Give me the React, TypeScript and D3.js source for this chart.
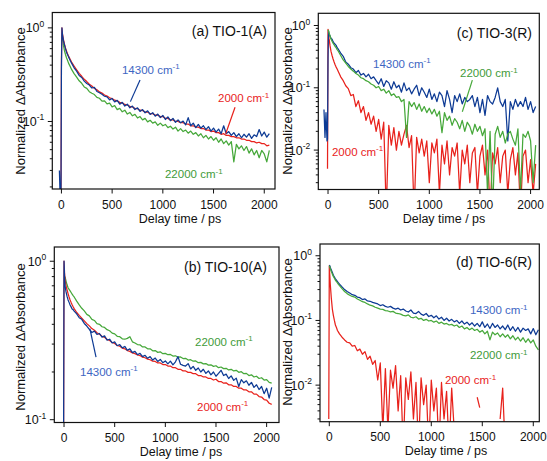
import React from 'react';
import * as d3 from 'd3';

// delay times (ps) shared by every trace
const TIMES = [
  -40, -30, -20, -10, -5, 0, 5, 10, 20, 30,
  40, 50, 60, 70, 80, 90, 100, 125, 150, 175,
  200, 225, 250, 275, 300, 325, 350, 375, 400, 425,
  450, 475, 500, 525, 550, 575, 600, 625, 650, 675,
  700, 725, 750, 775, 800, 825, 850, 875, 900, 925,
  950, 975, 1000, 1025, 1050, 1075, 1100, 1125, 1150, 1175,
  1200, 1225, 1250, 1275, 1300, 1325, 1350, 1375, 1400, 1425,
  1450, 1475, 1500, 1525, 1550, 1575, 1600, 1625, 1650, 1675,
  1700, 1725, 1750, 1775, 1800, 1825, 1850, 1875, 1900, 1925,
  1950, 1975, 2000, 2025, 2050,
];

// (a) TIO-1(A)
const A_2000 = [
  null, null, null, null, 0.01, 0.45, 1.0, 0.87, 0.75, 0.67,
  0.61, 0.565, 0.53, 0.5, 0.475, 0.452, 0.432, 0.39, 0.356, 0.326,
  0.304, 0.282, 0.267, 0.25, 0.239, 0.226, 0.218, 0.207, 0.201, 0.192,
  0.187, 0.179, 0.176, 0.169, 0.166, 0.16, 0.158, 0.152, 0.15, 0.145,
  0.143, 0.138, 0.137, 0.132, 0.131, 0.126, 0.126, 0.121, 0.121, 0.117,
  0.117, 0.113, 0.113, 0.108, 0.108, 0.104, 0.104, 0.1, 0.1, 0.097,
  0.097, 0.094, 0.094, 0.09, 0.09, 0.087, 0.087, 0.084, 0.084, 0.081,
  0.081, 0.078, 0.079, 0.076, 0.076, 0.073, 0.074, 0.071, 0.071, 0.069,
  0.069, 0.067, 0.067, 0.065, 0.065, 0.063, 0.063, 0.061, 0.061, 0.059,
  0.06, 0.058, 0.058, 0.055, 0.056,
];
const A_14300 = [
  null, null, 0.03, 0.012, 0.012, 0.35, 1.0, 0.85, 0.73, 0.66,
  0.6, 0.55, 0.52, 0.49, 0.465, 0.44, 0.42, 0.375, 0.345, 0.31,
  0.295, 0.27, 0.255, 0.245, 0.228, 0.232, 0.209, 0.203, 0.195, 0.186,
  0.183, 0.17, 0.176, 0.162, 0.168, 0.153, 0.16, 0.146, 0.153, 0.14,
  0.146, 0.134, 0.14, 0.128, 0.134, 0.124, 0.13, 0.119, 0.124, 0.114,
  0.12, 0.11, 0.116, 0.105, 0.112, 0.102, 0.108, 0.098, 0.104, 0.097,
  0.101, 0.092, 0.11, 0.09, 0.096, 0.086, 0.093, 0.085, 0.09, 0.082,
  0.088, 0.079, 0.085, 0.077, 0.083, 0.074, 0.09, 0.074, 0.078, 0.071,
  0.076, 0.069, 0.074, 0.067, 0.073, 0.068, 0.074, 0.066, 0.072, 0.069,
  0.082, 0.07, 0.077, 0.068, 0.074,
];
const A_22000 = [
  null, null, null, null, null, null, null, 0.78, 0.65, 0.57,
  0.52, 0.48, 0.45, 0.42, 0.4, 0.38, 0.36, 0.325, 0.298, 0.272,
  0.256, 0.234, 0.226, 0.208, 0.2, 0.194, 0.181, 0.177, 0.165, 0.166,
  0.154, 0.157, 0.143, 0.148, 0.134, 0.138, 0.127, 0.132, 0.12, 0.125,
  0.115, 0.119, 0.109, 0.113, 0.104, 0.108, 0.099, 0.103, 0.096, 0.099,
  0.091, 0.096, 0.09, 0.093, 0.086, 0.089, 0.083, 0.087, 0.079, 0.084,
  0.078, 0.081, 0.075, 0.079, 0.073, 0.076, 0.07, 0.074, 0.067, 0.071,
  0.065, 0.069, 0.063, 0.067, 0.06, 0.065, 0.058, 0.062, 0.056, 0.061,
  0.037, 0.057, 0.051, 0.055, 0.049, 0.054, 0.046, 0.051, 0.044, 0.049,
  0.041, 0.049, 0.045, 0.037, 0.049,
];

// (b) TIO-10(A)
const B_2000 = [
  null, null, null, null, 0.05, 1.0, 0.85, 0.77, 0.7, 0.66,
  0.625, 0.595, 0.57, 0.55, 0.532, 0.516, 0.502, 0.475, 0.455, 0.437,
  0.42, 0.404, 0.391, 0.376, 0.367, 0.354, 0.346, 0.336, 0.331, 0.321,
  0.316, 0.307, 0.303, 0.294, 0.291, 0.283, 0.28, 0.273, 0.27, 0.264,
  0.261, 0.256, 0.254, 0.248, 0.246, 0.241, 0.239, 0.234, 0.233, 0.228,
  0.228, 0.223, 0.223, 0.218, 0.218, 0.213, 0.213, 0.208, 0.208, 0.203,
  0.203, 0.199, 0.199, 0.195, 0.195, 0.19, 0.19, 0.186, 0.186, 0.182,
  0.182, 0.178, 0.18, 0.174, 0.174, 0.17, 0.171, 0.166, 0.166, 0.162,
  0.162, 0.158, 0.158, 0.154, 0.154, 0.15, 0.15, 0.145, 0.145, 0.14,
  0.139, 0.134, 0.133, 0.127, 0.125,
];
const B_14300 = [
  null, null, null, null, 0.05, 1.0, 0.8, 0.7, 0.64, 0.6,
  0.57, 0.55, 0.53, 0.515, 0.5, 0.495, 0.485, 0.465, 0.44, 0.43,
  0.405, 0.39, 0.372, 0.355, 0.362, 0.345, 0.35, 0.332, 0.338, 0.318,
  0.322, 0.305, 0.31, 0.293, 0.298, 0.284, 0.29, 0.274, 0.28, 0.265,
  0.27, 0.257, 0.262, 0.25, 0.255, 0.244, 0.25, 0.238, 0.245, 0.233,
  0.24, 0.229, 0.235, 0.225, 0.234, 0.222, 0.232, 0.25, 0.224, 0.22,
  0.218, 0.226, 0.209, 0.217, 0.205, 0.212, 0.2, 0.208, 0.196, 0.203,
  0.192, 0.2, 0.188, 0.196, 0.205, 0.19, 0.194, 0.182, 0.189, 0.177,
  0.183, 0.162, 0.179, 0.171, 0.176, 0.165, 0.172, 0.16, 0.166, 0.155,
  0.162, 0.146, 0.158, 0.137, 0.16,
];
const B_22000 = [
  null, null, null, null, null, null, null, 0.8, 0.75, 0.71,
  0.68, 0.665, 0.65, 0.635, 0.62, 0.607, 0.595, 0.56, 0.53, 0.505,
  0.486, 0.462, 0.452, 0.43, 0.423, 0.404, 0.4, 0.386, 0.382, 0.37,
  0.364, 0.352, 0.348, 0.336, 0.334, 0.324, 0.322, 0.326, 0.334, 0.31,
  0.305, 0.298, 0.297, 0.288, 0.288, 0.28, 0.28, 0.272, 0.273, 0.266,
  0.268, 0.261, 0.262, 0.257, 0.258, 0.252, 0.253, 0.248, 0.249, 0.243,
  0.244, 0.238, 0.239, 0.234, 0.235, 0.229, 0.23, 0.225, 0.226, 0.221,
  0.222, 0.217, 0.219, 0.213, 0.215, 0.21, 0.211, 0.206, 0.208, 0.203,
  0.205, 0.199, 0.201, 0.195, 0.196, 0.19, 0.192, 0.186, 0.188, 0.182,
  0.184, 0.178, 0.179, 0.172, 0.17,
];

// (c) TIO-3(R)
const C_2000 = [
  null, null, null, null, 0.005, 0.87, 0.75, 0.62, 0.47, 0.38,
  0.33, 0.29, 0.26, 0.235, 0.215, 0.2, 0.185, 0.15, 0.13, 0.108,
  0.097, 0.075, 0.078, 0.05, 0.062, 0.04, 0.05, 0.03, 0.04, 0.026,
  0.035, 0.02, 0.031, 0.015, 0.028, 0.001, 0.025, 0.012, 0.023, 0.01,
  0.02, 0.012, 0.018, 0.025, 0.011, 0.017, 0.001, 0.016, 0.009, 0.015,
  0.008, 0.014, 0.003, 0.013, 0.009, 0.015, 0.002, 0.012, 0.006, 0.014,
  0.004, 0.011, 0.008, 0.013, 0.002, 0.01, 0.006, 0.012, 0.003, 0.009,
  0.011, 0.002, 0.008, 0.012, 0.004, 0.01, 0.001, 0.009, 0.006, 0.011,
  0.003, 0.008, 0.01, 0.002, 0.007, 0.011, 0.004, 0.009, 0.001, 0.008,
  0.01, 0.003, 0.007, 0.002, 0.006,
];
const C_14300 = [
  0.045, 0.016, 0.04, 0.014, 0.015, 0.3, 0.82, 0.74, 0.68, 0.62,
  0.6, 0.55, 0.52, 0.5, 0.48, 0.44, 0.42, 0.36, 0.32, 0.26,
  0.24, 0.21, 0.2, 0.175, 0.19, 0.16, 0.17, 0.15, 0.165, 0.14,
  0.15, 0.13, 0.115, 0.14, 0.105, 0.13, 0.12, 0.095, 0.125, 0.1,
  0.11, 0.085, 0.12, 0.09, 0.1, 0.08, 0.095, 0.11, 0.075, 0.1,
  0.085, 0.07, 0.095, 0.065, 0.08, 0.06, 0.085, 0.075, 0.05, 0.09,
  0.065, 0.04, 0.075, 0.06, 0.08, 0.055, 0.07, 0.06, 0.065, 0.075,
  0.05, 0.07, 0.04, 0.065, 0.036, 0.075, 0.06, 0.055, 0.07, 0.1,
  0.06, 0.05, 0.065, 0.014, 0.06, 0.045, 0.065, 0.05, 0.06, 0.05,
  0.07, 0.045, 0.06, 0.04, 0.05,
];
const C_22000 = [
  null, null, null, null, null, 0.85, 0.82, 0.76, 0.68, 0.6,
  0.56, 0.52, 0.49, 0.46, 0.44, 0.41, 0.39, 0.33, 0.28, 0.25,
  0.22, 0.2, 0.185, 0.17, 0.16, 0.145, 0.14, 0.13, 0.125, 0.115,
  0.11, 0.1, 0.105, 0.09, 0.095, 0.082, 0.09, 0.075, 0.08, 0.07,
  0.072, 0.06, 0.065, 0.016, 0.06, 0.05, 0.058, 0.045, 0.055, 0.042,
  0.05, 0.04, 0.047, 0.038, 0.045, 0.035, 0.042, 0.019, 0.04, 0.03,
  0.035, 0.025, 0.032, 0.028, 0.022, 0.03, 0.02, 0.028, 0.024, 0.018,
  0.026, 0.02, 0.024, 0.017, 0.022, 0.002, 0.02, 0.001, 0.018, 0.024,
  0.016, 0.02, 0.013, 0.018, 0.02, 0.015, 0.012, 0.022, 0.002, 0.018,
  0.016, 0.02, 0.014, 0.003, 0.012,
];

// (d) TIO-6(R)
const D_2000 = [
  null, null, null, null, 0.003, 0.7, 0.5, 0.36, 0.22, 0.15,
  0.12, 0.1, 0.085, 0.078, 0.07, 0.066, 0.062, 0.055, 0.05, 0.046,
  0.045, 0.04, 0.041, 0.034, 0.036, 0.03, 0.033, 0.025, 0.028, 0.021,
  0.024, 0.012, 0.022, 0.002, 0.018, 0.002, 0.017, 0.009, 0.02, 0.004,
  0.014, 0.001, 0.013, 0.006, 0.016, 0.003, 0.011, 0.001, 0.013, 0.005,
  0.01, 0.001, 0.012, 0.004, 0.009, 0.001, 0.011, 0.003, 0.008, 0.001,
  0.009, 0.002, null, null, null, null, null, null, null, null,
  0.0065, 0.0045, null, null, null, null, null, null, null, 0.003,
  0.009, 0.001, null, null, null, null, null, null, null, null,
  null, null, null, null, null,
];
const D_14300 = [
  null, null, null, null, null, 0.72, 0.7, 0.66, 0.6, 0.55,
  0.5, 0.47, 0.44, 0.42, 0.4, 0.38, 0.365, 0.33, 0.3, 0.28,
  0.265, 0.25, 0.245, 0.23, 0.225, 0.21, 0.215, 0.2, 0.198, 0.19,
  0.185, 0.18, 0.17, 0.175, 0.165, 0.16, 0.165, 0.155, 0.15, 0.155,
  0.145, 0.15, 0.14, 0.135, 0.145, 0.13, 0.128, 0.138, 0.125, 0.12,
  0.128, 0.115, 0.12, 0.11, 0.118, 0.105, 0.112, 0.1, 0.108, 0.098,
  0.104, 0.095, 0.1, 0.09, 0.098, 0.088, 0.094, 0.085, 0.092, 0.082,
  0.09, 0.08, 0.095, 0.078, 0.088, 0.075, 0.09, 0.078, 0.085, 0.074,
  0.082, 0.072, 0.085, 0.07, 0.08, 0.068, 0.078, 0.066, 0.076, 0.07,
  0.074, 0.062, 0.075, 0.06, 0.072,
];
const D_22000 = [
  null, null, null, null, null, 0.7, 0.68, 0.63, 0.57, 0.52,
  0.48, 0.45, 0.42, 0.4, 0.38, 0.36, 0.345, 0.31, 0.28, 0.26,
  0.245, 0.235, 0.23, 0.215, 0.205, 0.195, 0.19, 0.18, 0.172, 0.168,
  0.16, 0.155, 0.15, 0.148, 0.142, 0.14, 0.136, 0.138, 0.13, 0.128,
  0.125, 0.12, 0.118, 0.122, 0.112, 0.11, 0.114, 0.105, 0.108, 0.1,
  0.104, 0.098, 0.1, 0.094, 0.098, 0.09, 0.094, 0.088, 0.09, 0.085,
  0.087, 0.082, 0.085, 0.078, 0.082, 0.074, 0.078, 0.072, 0.076, 0.07,
  0.073, 0.066, 0.07, 0.062, 0.068, 0.05, 0.066, 0.06, 0.064, 0.056,
  0.062, 0.055, 0.06, 0.052, 0.058, 0.05, 0.055, 0.048, 0.054, 0.046,
  0.052, 0.045, 0.05, 0.04, 0.035,
];

const BLUE = '#0d3a94';
const RED = '#e8221c';
const GREEN = '#46a83a';
const BLUE_TXT = '#3d66c3';
const GREEN_TXT = '#3f9b3a';
const FONT = '"Liberation Sans", Arial, Helvetica, sans-serif';

const panels = [
  {
    id: 'a', title: '(a) TIO-1(A)',
    left: 52.3, right: 275, top: 12.5, bottom: 189,
    xDomain: [-90, 2106], yDomain: [0.019, 1.46],
    titleX: 267, titleY: 35.5, yLabelX: 25, yLabelY: 101, xLabelX: 180,
    traces: [
      { v: A_22000, c: GREEN }, { v: A_2000, c: RED }, { v: A_14300, c: BLUE },
    ],
    labels: [
      { t: '14300 cm', at: [597, 0.322], c: BLUE_TXT },
      { t: '2000 cm', at: [1544, 0.161], c: RED },
      { t: '22000 cm', at: [1021, 0.0249], c: GREEN_TXT },
    ],
    leaders: [
      { p: [[775, 0.277], [680, 0.163]], c: BLUE },
      { p: [[1712, 0.142], [1620, 0.074]], c: RED },
    ],
  },
  {
    id: 'c', title: '(c) TIO-3(R)',
    left: 318.3, right: 539.3, top: 13.3, bottom: 189.5,
    xDomain: [-96, 2086], yDomain: [0.00233, 1.57],
    titleX: 532, titleY: 38, yLabelX: 292, yLabelY: 101, xLabelX: 444,
    traces: [
      { v: C_2000, c: RED }, { v: C_14300, c: BLUE }, { v: C_22000, c: GREEN },
    ],
    labels: [
      { t: '14300 cm', at: [444, 0.208], c: BLUE_TXT },
      { t: '22000 cm', at: [1303, 0.149], c: GREEN_TXT },
      { t: '2000 cm', at: [39, 0.00804], c: RED },
    ],
    leaders: [
      { p: [[1425, 0.133], [1326, 0.0413]], c: GREEN },
    ],
  },
  {
    id: 'b', title: '(b) TIO-10(A)',
    left: 54.3, right: 279, top: 247, bottom: 422.5,
    xDomain: [-96, 2122], yDomain: [0.096, 1.23],
    titleX: 267, titleY: 271.5, yLabelX: 25, yLabelY: 337, xLabelX: 181,
    traces: [
      { v: B_22000, c: GREEN }, { v: B_2000, c: RED }, { v: B_14300, c: BLUE },
    ],
    labels: [
      { t: '22000 cm', at: [1293, 0.292], c: GREEN_TXT },
      { t: '14300 cm', at: [158, 0.189], c: BLUE_TXT },
      { t: '2000 cm', at: [1313, 0.1135], c: RED },
    ],
    leaders: [
      { p: [[316, 0.248], [255, 0.375]], c: BLUE },
    ],
  },
  {
    id: 'd', title: '(d) TIO-6(R)',
    left: 320, right: 539.3, top: 244, bottom: 421.7,
    xDomain: [-91, 2059], yDomain: [0.00272, 1.52],
    titleX: 532, titleY: 267, yLabelX: 292, yLabelY: 332, xLabelX: 446,
    traces: [
      { v: D_2000, c: RED }, { v: D_14300, c: BLUE }, { v: D_22000, c: GREEN },
    ],
    labels: [
      { t: '14300 cm', at: [1379, 0.1256], c: BLUE_TXT },
      { t: '22000 cm', at: [1379, 0.0253], c: GREEN_TXT },
      { t: '2000 cm', at: [1134, 0.0104], c: RED },
    ],
    leaders: [],
  },
];

const X_TICKS = [0, 500, 1000, 1500, 2000];

function Panel({ cfg }: { cfg: any }) {
  const x = d3.scaleLinear().domain(cfg.xDomain).range([cfg.left, cfg.right]);
  const y = d3.scaleLog().domain(cfg.yDomain).range([cfg.bottom, cfg.top]);
  const line = d3
    .line<[number, number | null]>()
    .defined((d) => d[1] != null && (d[1] as number) > 0)
    .x((d) => x(d[0]))
    .y((d) => y(d[1] as number));
  const yTicks = y.ticks();
  const isMajor = (t: number) => Math.abs(Math.log10(t) - Math.round(Math.log10(t))) < 1e-6;
  const clipId = `clip-${cfg.id}`;

  return (
    <g>
      <defs>
        <clipPath id={clipId}>
          <rect x={cfg.left} y={cfg.top} width={cfg.right - cfg.left} height={cfg.bottom - cfg.top} />
        </clipPath>
      </defs>
      <g clipPath={`url(#${clipId})`}>
        {cfg.traces.map((tr: any, i: number) => (
          <path
            key={i}
            d={line(TIMES.map((t, k) => [t, tr.v[k]] as [number, number | null])) || ''}
            fill="none"
            stroke={tr.c}
            strokeWidth={1.25}
            strokeLinejoin="round"
          />
        ))}
      </g>
      {cfg.leaders.map((l: any, i: number) => (
        <line
          key={i}
          x1={x(l.p[0][0])} y1={y(l.p[0][1])}
          x2={x(l.p[1][0])} y2={y(l.p[1][1])}
          stroke={l.c} strokeWidth={1.2}
        />
      ))}
      {cfg.labels.map((l: any, i: number) => (
        <text key={i} x={x(l.at[0])} y={y(l.at[1])} fill={l.c} fontSize={11.5} fontFamily={FONT}>
          {l.t}
          <tspan dy={-4.5} fontSize={8}>-1</tspan>
        </text>
      ))}
      <rect
        x={cfg.left} y={cfg.top}
        width={cfg.right - cfg.left} height={cfg.bottom - cfg.top}
        fill="none" stroke="#111" strokeWidth={1.2}
      />
      {yTicks.map((t: number) => (
        <line
          key={t}
          x1={cfg.left - (isMajor(t) ? 4.5 : 2.5)} x2={cfg.left}
          y1={y(t)} y2={y(t)}
          stroke="#111" strokeWidth={1}
        />
      ))}
      {yTicks.filter(isMajor).map((t: number) => (
        <text
          key={'l' + t}
          x={cfg.left - 8} y={y(t) + 4.5}
          textAnchor="end" fontSize={12.5} fontFamily={FONT} fill="#111"
        >
          10
          <tspan dy={-5.5} fontSize={8.5}>{Math.round(Math.log10(t))}</tspan>
        </text>
      ))}
      {X_TICKS.map((t) => (
        <g key={'x' + t}>
          <line x1={x(t)} x2={x(t)} y1={cfg.bottom} y2={cfg.bottom + 4.5} stroke="#111" strokeWidth={1} />
          <text x={x(t)} y={cfg.bottom + 19.5} textAnchor="middle" fontSize={12} fontFamily={FONT} fill="#111">
            {t}
          </text>
        </g>
      ))}
      <text
        x={cfg.xLabelX} y={cfg.bottom + 33.5}
        textAnchor="middle" fontSize={12.5} fontFamily={FONT} fill="#111"
      >
        Delay time / ps
      </text>
      <text
        transform={`translate(${cfg.yLabelX},${cfg.yLabelY}) rotate(-90)`}
        textAnchor="middle" fontSize={13} fontFamily={FONT} fill="#111"
      >
        Normalized ΔAbsorbance
      </text>
      <text x={cfg.titleX} y={cfg.titleY} textAnchor="end" fontSize={14} fontFamily={FONT} fill="#111">
        {cfg.title}
      </text>
    </g>
  );
}

export default function App() {
  return (
    <svg
      width={547}
      height={461}
      style={{ position: 'absolute', left: 0, top: 0, background: '#fff' }}
    >
      <rect width={547} height={461} fill="#fff" />
      {panels.map((p) => (
        <Panel key={p.id} cfg={p} />
      ))}
    </svg>
  );
}
